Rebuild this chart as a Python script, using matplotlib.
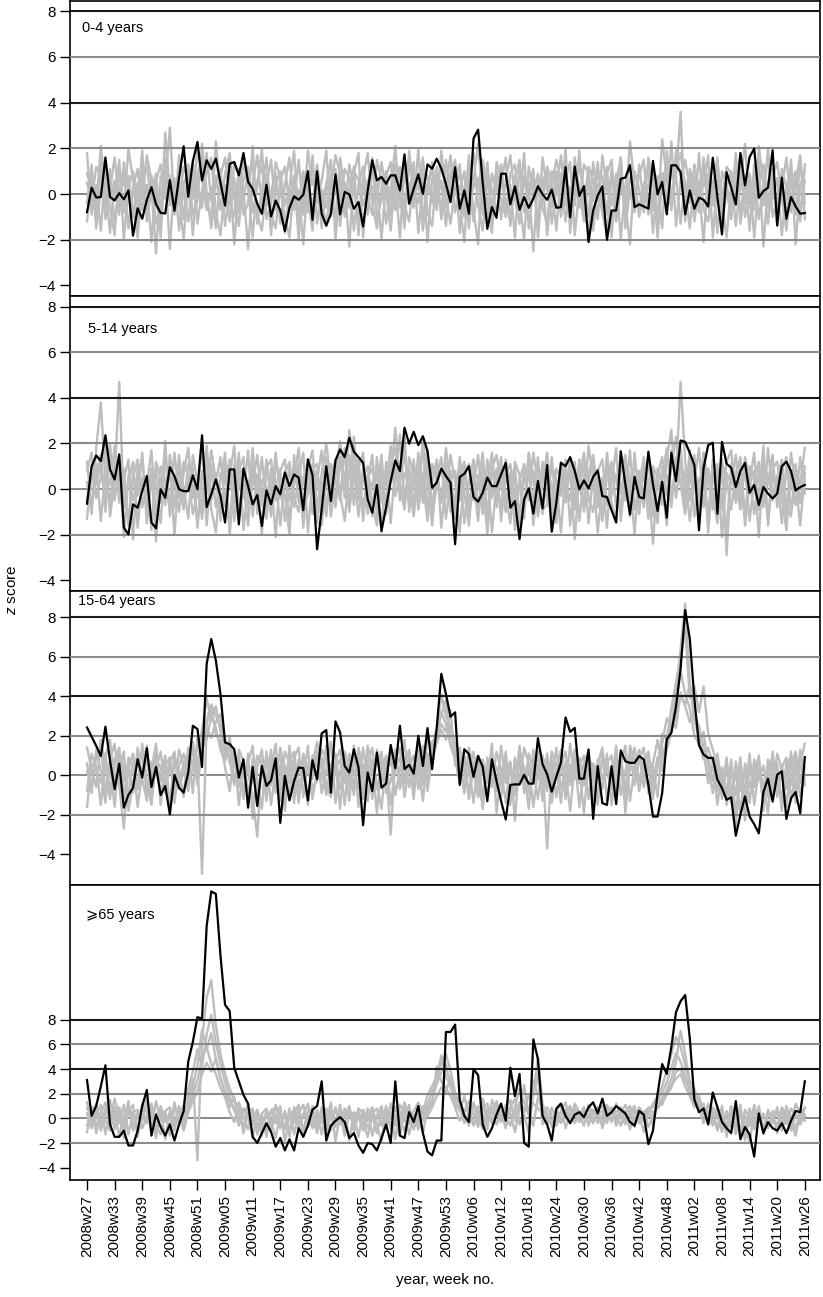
import matplotlib
matplotlib.use('Agg')
import matplotlib.pyplot as plt
import numpy as np

plt.rcParams['font.family'] = ['Liberation Sans', 'DejaVu Sans']
plt.rcParams['mathtext.fontset'] = 'custom'
plt.rcParams['mathtext.it'] = 'Liberation Sans:italic'
plt.rcParams['mathtext.rm'] = 'Liberation Sans'

# semanas 2008w27 .. 2011w26 (2009 tiene 53 semanas)
week_labels = []
for year, first, last in [(2008, 27, 52), (2009, 1, 53), (2010, 1, 52), (2011, 1, 26)]:
    for w in range(first, last + 1):
        week_labels.append('%dw%02d' % (year, w))

# ---- 0-4 years ----
black_04 = [-0.79, 0.28, -0.15, -0.13, 1.6, -0.13, -0.28, 0.04, -0.23, 0.16,
            -1.82, -0.62, -1.08, -0.26, 0.3, -0.45, -0.82, -0.85, 0.61, -0.73,
            0.72, 2.09, -0.11, 1.44, 2.28, 0.6, 1.48, 1.1, 1.55, 0.5,
            -0.5, 1.33, 1.4, 0.82, 1.8, 0.53, 0.23, -0.42, -0.86, 0.41,
            -0.98, -0.28, -0.72, -1.62, -0.6, -0.1, -0.25, -0.03, 1.0, -1.13,
            1.0, -0.86, -1.38, -0.86, 0.86, -0.89, 0.09, -0.01, -0.64, -0.35,
            -1.42, 0.15, 1.48, 0.6, 0.75, 0.45, 0.82, 0.82, 0.16, 1.74,
            -0.42, 0.23, 0.86, 0.01, 1.3, 1.11, 1.55, 1.11, 0.45, -0.35,
            1.18, -0.64, 0.16, -0.86, 2.43, 2.82, 0.5, -1.52, -0.57, -1.04,
            0.89, 0.89, -0.45, 0.34, -0.69, -0.13, -0.6, -0.2, 0.34, -0.01,
            -0.25, 0.19, -0.6, -0.57, 1.18, -1.02, 1.2, -0.08, 0.34, -2.1,
            -0.72, -0.06, 0.34, -2.0, -0.72, -0.72, 0.67, 0.72, 1.26, -0.57,
            -0.45, -0.54, -0.64, 1.45, -0.01, 0.53, -0.89, 1.26, 1.26, 0.96,
            -0.89, 0.16, -0.64, -0.16, -0.25, -0.54, 1.59, -0.13, -1.77, 0.96,
            0.28, -0.45, 1.8, 0.38, 1.62, 1.99, -0.16, 0.13, 0.28, 1.92,
            -1.37, 0.72, -1.08, -0.13, -0.54, -0.86, -0.83]
gray_04 = [
    [0.5, -0.3, 1.2, 0.8, -1.1, 0.2, 1.6, -0.4, 0.9, -1.5, 0.3, 1.1, -0.7, 0.4, -2.1, 0.6, 1.3, -0.2, 0.8, -0.9,
     1.7, 0.1, -1.2, 0.9, 0.4, -0.6, 1.8, -0.3, 0.5, 1.1, -1.4, 0.2, 0.7, -0.8, 1.5, 0.3, -1.9, 0.6, 1.2, -0.5,
     0.1, 0.9, -1.3, 0.4, 1.6, -0.7, 0.2, -2.2, 0.8, 1.3, -0.4, 0.6, 1.9, -1.0, 0.3, -0.5, 1.1, 0.7, -1.6, 0.4,
     1.2, -0.2, -0.9, 1.5, 0.6, -1.3, 0.2, 2.1, -0.6, 0.9, -0.1, 1.4, -1.7, 0.5, 0.8, -0.4, 1.2, -1.1, 0.3, 1.7,
     -0.8, 0.2, 1.0, -1.5, 0.6, 2.2, -0.3, -1.2, 0.9, 0.1, 1.3, -0.7, 0.4, -1.9, 1.1, 0.5, -0.2, 0.8, -1.4, 1.6,
     0.2, -0.6, 1.0, -1.0, 0.7, 1.4, -1.8, 0.3, -0.4, 1.2, 0.6, -1.1, 1.7, 0.2, -0.5, 0.9, -2.0, 0.4, 1.3, -0.3,
     0.8, 1.5, -0.9, 0.1, -1.4, 0.9, -0.6, 1.2, 0.7, 3.6, -1.2, 1.1, 0.3, -0.8, 1.6, -0.1, 0.6, -1.7, 1.0, 0.4,
     -0.6, 1.8, -1.3, 0.2, 0.9, -0.4, 1.4, -2.3, 0.5, 1.1, -0.9, 0.3, 1.6, -0.5, 0.8, -1.2, 1.3],
    [-1.2, 0.8, -0.5, 2.1, 0.3, -1.7, 0.6, -0.9, 1.4, 0.2, -0.6, -1.9, 0.7, 1.2, -0.3, 0.9, -1.4, 2.7, 0.1, -0.8,
     0.5, -1.1, 1.3, -0.2, 2.0, 0.6, -0.7, 0.3, -1.5, 0.8, 1.6, -0.4, -1.0, 1.1, 0.2, -2.4, 0.5, 1.7, -0.6, 0.9,
     -1.8, 0.4, 1.0, -0.5, 0.3, 1.9, -1.2, 0.7, -0.1, -1.6, 0.9, -0.3, 0.4, 1.5, -2.0, 0.6, -0.8, 1.3, 0.2, -1.1,
     0.7, 1.8, -0.4, -1.5, 0.3, 1.0, -0.9, 0.5, -1.9, 1.2, 0.4, -0.6, 2.0, -1.0, 0.1, 1.4, -0.3, 0.6, -1.4, 0.8,
     1.1, -1.7, 0.3, 0.9, -0.7, -2.2, 1.5, 0.4, -0.5, 1.0, -1.1, 0.6, 1.7, -0.2, -1.3, 0.8, 0.3, -2.5, 0.7, -0.4,
     1.2, 0.5, -1.6, 0.9, -0.1, -0.8, 1.6, 0.2, -1.2, 0.6, -0.3, 1.4, -0.9, -1.8, 0.7, 0.1, 1.1, -0.6, 2.3, 0.4,
     -1.0, 0.3, 1.2, -0.7, 0.5, -1.5, 1.9, -0.2, 0.8, -1.3, 0.6, -0.4, 1.3, 0.2, -2.1, 0.9, -0.5, 1.5, -0.8, 0.3,
     1.0, -1.4, 0.5, 2.2, -0.6, 0.8, -1.1, 0.4, 1.6, -0.2, 0.7, -1.8, 0.2, 1.2, -0.9, 1.5, -0.4],
    [1.8, -0.9, 0.4, -1.6, 1.1, 0.7, -0.2, 1.5, -2.0, 0.3, 1.0, -0.5, 1.9, -1.2, 0.2, -2.6, 0.8, 0.5, 2.9, -0.7,
     -0.3, 1.2, 0.6, -1.8, 0.9, 1.6, -0.4, -1.1, 2.3, 0.1, -0.6, 1.0, -2.2, 0.5, -0.1, 0.8, 1.3, -0.9, -1.6, 0.4,
     1.5, -0.7, 0.2, -1.0, -1.9, 0.6, 1.2, 0.3, -0.8, 1.7, -1.3, 0.2, -0.6, 0.9, 1.1, -1.4, 0.5, -2.3, 1.0, 0.6,
     -0.5, 0.3, 1.6, -1.1, -0.2, 0.8, 1.4, -0.7, 0.4, -1.5, 1.9, 0.2, -0.4, 1.1, -2.1, 0.7, 0.3, -0.8, 1.5, -0.2,
     0.6, 1.3, -1.0, 0.4, 1.8, -0.5, -1.6, 0.9, 0.2, -0.9, 0.5, 1.6, -1.4, 0.8, -0.3, -2.0, 1.2, 0.1, 0.9, -0.6,
     -1.3, 1.0, 0.4, -0.5, 2.0, -1.7, 0.6, 1.1, 0.3, -1.0, 1.4, -0.2, -0.7, 0.9, 1.5, -1.2, 0.3, -0.4, -2.2, 1.0,
     0.2, -0.8, 1.6, 0.5, -1.1, 2.4, 0.7, -0.6, 1.1, 1.8, 0.3, -1.5, 0.8, -0.3, 0.4, 1.7, -1.9, 0.6, -0.2, 1.2,
     0.9, -0.5, 1.3, -1.0, 0.2, -0.7, 2.1, 0.4, -1.3, 0.7, 1.4, -0.2, -1.6, 0.5, 1.0, -0.8, 0.6],
    [-0.4, 1.3, -1.5, 0.2, 0.9, -0.6, -1.8, 1.1, 0.4, 0.8, -1.0, 0.5, -0.2, 1.7, 0.6, -1.3, -0.5, 1.0, -2.4, 0.7,
     -1.6, 0.4, 1.1, -0.9, -0.3, 2.2, 0.1, -1.5, 0.8, -0.7, 0.9, 1.8, -0.2, -1.4, 0.6, 1.2, -0.8, 0.3, 2.0, -1.1,
     -0.4, 1.4, 0.7, -1.7, 0.2, -0.3, 1.5, -0.9, 1.9, 0.4, 0.8, -1.5, 0.5, -0.4, -1.1, 1.6, 0.2, -0.6, 0.9, 1.8,
     -1.9, 0.6, 0.3, -0.2, 1.4, 0.1, -1.6, 0.8, 1.2, -0.5, -1.2, 0.7, 0.2, 1.6, -0.8, -1.4, 1.0, 0.3, -0.6, 0.9,
     1.5, -0.4, -2.1, 1.2, 0.3, 0.7, -0.9, 1.4, -1.3, 0.6, -0.2, -1.0, 0.9, 1.3, -0.6, 1.8, -1.5, 0.2, -0.1, 0.7,
     -1.8, 0.4, 1.5, 0.6, -1.2, 0.3, -0.5, 1.9, -0.8, -1.6, 0.2, 0.9, -0.4, 1.2, -1.9, 0.5, 1.6, -1.1, 0.7, 0.2,
     -0.6, 0.4, 1.1, -1.7, 0.8, 0.3, -0.2, 2.3, -1.4, 0.6, 1.5, 0.2, -1.0, 1.8, -0.7, -1.2, 0.5, 1.1, -0.3, -1.9,
     0.4, 1.2, -0.8, 0.6, -1.6, 1.3, 0.1, -0.5, 2.0, -1.0, -0.3, 0.8, -1.2, 1.5, -2.2, 0.4, 1.0],
    [0.9, 0.2, -1.0, 1.5, -0.6, 1.1, -1.3, 0.3, -0.8, 2.0, 0.6, -1.4, 1.2, -0.7, 0.8, 0.1, -1.9, 1.6, -0.5, 0.4,
     -0.2, -2.0, 0.5, 1.4, -1.3, 0.2, 0.9, 1.6, -0.8, -1.8, 0.4, -1.2, 1.4, 0.8, -0.9, -0.4, 2.1, -1.3, 0.2, 1.6,
     -0.9, -1.5, 0.6, 1.2, -0.5, 0.8, -2.0, 1.0, 0.4, -0.7, 1.3, -0.2, -1.4, 0.3, 1.7, 0.9, -1.0, 0.2, 1.2, -1.8,
     0.5, -0.9, 1.1, 0.4, -2.0, 0.7, -0.3, 1.3, 0.8, -1.1, 1.6, -0.5, 0.9, -1.6, 0.4, 1.1, -0.7, 1.9, -0.2, -1.3,
     0.3, 0.9, -0.6, 1.7, -1.2, 0.5, 1.2, -0.4, -1.7, 1.4, 0.7, -0.3, -1.2, 0.6, 1.5, -0.8, 0.2, 1.1, -1.9, 0.5,
     1.1, -1.3, 0.2, 1.7, -0.4, -1.1, 0.8, -0.6, 1.3, 0.9, -1.6, 0.4, 0.8, -0.9, 1.1, -0.3, 1.6, -1.5, 0.2, -0.8,
     1.3, -0.5, 0.4, 1.0, -1.9, 0.6, 1.3, -0.7, 1.9, 0.8, -0.5, 0.9, -1.2, 0.4, 1.1, -0.6, 0.3, 1.6, -1.4, 0.2,
     -1.1, 0.6, 1.7, -0.4, 0.8, -1.9, 0.5, 1.3, -0.6, 0.9, -1.4, 1.1, 0.3, -0.8, 0.5, 1.7, -1.1],
]

# ---- 5-14 years ----
black_514 = [-0.64, 1.0, 1.47, 1.23, 2.36, 0.86, 0.42, 1.52, -1.69, -1.99,
             -0.67, -0.82, -0.09, 0.57, -1.47, -1.72, -0.01, -0.38, 0.96, 0.57,
             -0.01, -0.09, -0.09, 0.6, -0.01, 2.36, -0.79, -0.23, 0.42, -0.3,
             -1.47, 0.86, 0.86, -1.55, 0.9, 0.13, -0.67, -0.26, -1.62, -0.06,
             -0.67, 0.13, -0.23, 0.72, 0.13, 0.64, 0.5, -0.93, 1.3, 0.61,
             -2.64, -0.89, 1.0, -0.53, 1.26, 1.74, 1.4, 2.25, 1.64, 1.4,
             1.15, -0.45, -1.04, 0.18, -1.84, -0.8, 0.35, 1.26, 0.79, 2.69,
             1.99, 2.51, 1.93, 2.32, 1.66, 0.06, 0.28, 0.9, 0.57, 0.28,
             -2.42, 0.53, 0.67, 1.0, -0.35, -0.55, -0.16, 0.5, 0.13, 0.13,
             0.64, 1.15, -0.82, -0.53, -2.2, -0.45, 0.03, -1.08, 0.35, -0.85,
             1.05, -1.87, -0.6, 1.15, 1.0, 1.4, 0.79, -0.01, 0.38, 0.03,
             0.53, 0.82, -0.31, -0.35, -0.93, -1.47, 1.66, 0.2, -1.11, 0.53,
             -0.35, -0.41, 1.64, 0.2, -0.96, 0.32, -1.26, 1.59, 0.35, 2.13,
             2.07, 1.59, 1.05, -1.81, 0.93, 1.93, 2.03, -1.08, 2.07, 1.11,
             0.93, 0.09, 0.79, 1.15, -0.16, 0.18, -0.7, 0.09, -0.2, -0.41,
             -0.2, 1.0, 1.2, 0.79, -0.06, 0.09, 0.18]
gray_514 = [
    [0.3, -1.1, 1.8, 3.8, 0.4, -0.7, 1.2, -0.2, 0.9, -1.6, 0.5, 1.3, -0.8, 0.2, 1.7, -1.2, 0.6, -0.4, 1.1, -2.0,
     0.8, 0.1, -1.3, 1.5, 0.3, -0.9, 1.9, -0.5, 0.7, -1.4, 1.2, 0.4, -0.6, 1.6, -1.8, 0.2, 0.9, -0.3, 1.4, -1.0,
     0.6, -2.1, 0.8, 1.3, -0.5, 0.4, 1.8, -0.9, -0.2, 1.1, -1.5, 0.7, 2.0, 0.3, -0.8, 1.4, -0.4, 2.6, 0.9, -1.2,
     0.5, 1.0, -0.7, -1.6, 0.8, 0.2, 1.9, -0.3, 0.6, 2.3, -1.0, 0.4, 1.2, -0.6, 1.7, -1.3, 0.2, 0.9, -0.4, 1.5,
     0.3, -1.9, 0.7, 1.1, -0.5, 0.2, 1.6, -1.2, 0.8, 0.4, -0.9, 1.3, -0.2, 0.6, -1.7, 1.0, 0.5, -0.6, 1.4, -1.1,
     0.7, 0.2, -1.5, 1.2, -0.3, 0.9, -2.2, 0.5, 1.6, -0.4, -1.0, 0.8, 1.3, -0.7, 0.3, 1.8, -1.4, 0.6, -0.2, 1.1,
     0.4, -0.8, 1.5, -1.2, 0.9, 0.2, -1.6, 1.7, 0.5, 4.7, 1.2, -0.5, 0.8, -1.3, 1.6, 0.3, -0.9, 1.1, -2.1, 0.7,
     0.2, 1.5, -0.6, 0.9, -1.4, 0.4, 1.2, -0.8, 1.8, -0.3, 0.6, -1.5, 1.0, 0.3, -0.7, 1.4, -0.2],
    [-1.3, 0.7, 0.2, 1.1, -0.6, 1.5, 0.4, 4.7, -0.8, 0.3, 1.2, -1.7, 0.5, -0.3, 0.9, -2.3, 1.0, 0.4, -0.9, 1.6,
     -0.4, 1.2, 0.6, -1.1, -0.2, 2.0, -1.6, 0.8, 0.3, 1.4, -0.7, -1.5, 1.1, 0.2, -0.4, 1.7, -1.2, 0.6, -2.0, 0.9,
     1.3, -0.5, 0.2, -1.4, 1.0, -0.8, 0.5, 1.6, -1.9, 0.4, 0.8, -0.6, 1.4, -1.2, 0.6, 2.1, 0.2, 1.5, -0.7, 0.9,
     1.6, -1.1, 0.3, 0.7, -1.9, 1.2, 0.5, 2.7, 0.1, -0.9, 1.4, 0.6, -0.3, 2.2, 0.4, -1.6, 0.8, -0.5, 1.1, -1.0,
     -0.4, 0.9, -1.5, 0.3, 1.3, -0.8, 0.5, -2.0, 0.9, 1.5, 0.2, -1.0, 0.7, -1.8, 0.4, 1.1, -0.5, 0.8, -1.2, 0.3,
     1.6, -0.9, 0.4, -0.3, 1.3, -1.6, 0.7, 0.2, -0.8, 1.9, 0.5, -1.9, 0.2, 1.0, -0.6, -1.3, 0.8, 1.5, -0.4, 0.6,
     -1.1, 1.2, 0.3, -2.4, 0.6, 1.4, -0.3, 0.9, 2.3, 1.0, -0.6, 1.7, -1.2, 0.4, 0.9, -1.7, 0.5, -0.2, 1.3, -2.9,
     0.8, -0.5, 1.1, -1.1, 0.3, 1.6, -0.9, 0.5, -1.3, 0.9, 1.2, -0.4, -1.8, 0.7, 1.1, -0.6, 0.4],
    [0.8, 1.6, -0.4, 0.5, 2.2, -1.2, 0.3, 1.1, -2.1, 0.6, -0.5, 0.4, 1.4, -1.0, 0.7, 0.2, -1.5, 1.3, 0.6, -0.8,
     1.5, -0.6, 0.3, 0.9, -1.7, 0.5, 1.2, -0.9, -1.9, 0.7, 0.2, 1.3, -1.4, 0.6, 0.9, -0.7, 1.8, -1.1, 0.4, 0.1,
     -1.2, 1.1, 0.7, -0.3, -2.0, 1.5, -0.6, 0.3, 1.2, -1.1, 0.4, 1.7, -0.9, 0.5, 1.3, -0.2, -1.4, 0.8, 1.9, 0.2,
     -0.7, 0.4, 1.5, -1.2, 0.3, -0.6, 1.1, 1.8, -0.5, 0.7, 0.2, -1.2, 0.8, 1.6, -0.9, 0.3, 1.3, -1.7, 0.5, 0.8,
     -1.3, 0.6, 1.2, -0.6, 0.4, -1.4, 1.0, 0.2, 1.6, -0.8, 0.9, -0.3, -1.5, 1.2, 0.6, -0.9, 1.5, -1.6, 0.3, 0.8,
     -0.4, 1.4, -1.1, 0.7, 0.2, -0.5, 1.2, -1.4, 0.6, 0.3, 1.3, -0.8, 0.5, -1.7, 1.1, 0.4, -0.2, 0.9, -1.2, 1.6,
     -0.5, 0.8, -1.3, 1.0, 0.5, -0.7, 1.3, 2.6, -0.4, 1.1, 0.6, -1.4, 0.3, 1.8, -0.8, 0.9, -0.3, -1.5, 1.2, 0.4,
     -0.9, 0.7, 1.4, -1.6, 0.2, 0.8, -2.1, 1.1, 0.6, -0.5, 0.4, 1.3, -0.7, -1.2, 0.9, 0.2, 1.8],
    [-0.5, 0.3, 1.1, -1.4, 0.8, 0.2, 1.9, -0.6, 0.4, 1.3, -2.2, 0.9, -0.1, 0.6, -1.8, 1.2, 0.5, -0.7, 1.5, 0.3,
     -1.0, 0.7, 1.8, -0.4, 0.2, -1.3, 0.6, 1.1, -0.8, 0.4, 1.6, -2.0, 0.3, 0.8, 1.4, -0.9, 0.2, 1.5, -0.6, -1.3,
     0.9, 0.4, -1.6, 0.7, 1.2, -0.4, -1.0, 0.5, 0.9, 1.7, -0.8, 0.3, -1.2, 1.1, 0.4, -0.5, 1.8, -0.9, 0.6, 1.3,
     -1.4, 0.5, 0.9, -0.3, 1.5, -1.1, 0.6, 0.2, 2.4, -0.6, 0.9, -0.8, 1.6, 0.3, -1.4, 1.1, 0.4, -0.6, 1.8, 0.2,
     -0.7, 1.4, -0.2, -1.6, 0.8, 0.5, -1.1, 1.3, -0.4, 0.9, -1.4, 0.6, 1.1, -0.5, 0.3, -1.3, 1.6, 0.4, -0.8, 1.2,
     0.3, -1.7, 0.9, 0.5, -0.6, 1.4, -0.9, 0.2, 1.1, -1.5, 0.7, 0.4, -1.2, 1.6, -0.3, 0.6, -1.0, 1.3, 0.5, -2.0,
     0.8, -0.4, 1.2, 0.3, -1.5, 1.0, 0.6, -0.8, 1.4, 0.2, -1.1, 0.9, 0.4, -0.6, 1.6, -1.9, 0.7, 0.3, -0.9, 1.2,
     1.7, -0.6, 0.4, -1.3, 1.0, 0.5, -0.4, 1.9, -1.6, 0.6, -0.2, 0.8, 1.4, -0.9, 0.3, -1.6, 0.7],
    [1.2, -0.8, 0.6, 1.5, -1.0, 2.0, -0.5, 0.9, 0.3, -1.4, 0.7, -0.3, 1.6, -1.5, 0.4, 0.9, -0.6, 2.1, -1.2, 0.5,
     0.3, -0.9, 1.1, 0.6, -1.5, 0.8, -0.2, 1.7, 0.4, -1.1, -0.3, 0.6, 1.9, -0.8, 0.2, -1.6, 1.0, 0.5, -0.7, 1.3,
     -0.6, 1.6, -0.4, 0.8, -1.3, 0.2, 1.1, -1.7, 0.6, 0.9, 1.1, -1.6, 0.4, 0.7, -0.4, 1.2, 0.6, -1.0, 2.3, -0.5,
     0.9, 0.3, -1.2, 1.4, -0.6, 0.8, -1.5, 1.0, 0.3, 1.6, -0.4, 1.3, -0.9, 0.5, 1.1, -0.7, 0.6, 1.4, -1.3, 0.4,
     0.8, -0.5, 1.1, -1.1, 0.2, 1.5, -0.8, 0.6, -1.9, 0.3, 1.4, -0.9, 0.5, 0.9, -1.2, 0.6, -0.4, 1.6, 0.2, -0.9,
     -0.7, 1.1, 0.3, -1.9, 0.8, 0.4, -0.5, 1.3, -1.0, 0.7, 1.5, -0.2, -1.4, 0.6, 1.2, -0.8, 0.3, -0.5, 1.7, -0.9,
     0.2, 1.4, -0.6, 0.9, -1.0, 0.5, 1.8, -0.3, 1.0, 1.8, -0.5, 0.3, 1.5, -0.8, 0.4, -1.2, 1.3, 0.6, -0.4, -1.8,
     1.1, 0.3, -0.9, 1.4, 0.5, -1.1, 0.8, -0.6, 0.3, 1.5, -0.8, 0.5, -1.3, 1.6, 0.2, -0.6, 1.0],
]

# ---- 15-64 years ----
black_1564 = [2.42, 1.95, 1.49, 0.98, 2.46, 0.73, -0.71, 0.59, -1.64, -1.0,
              -0.63, 0.81, -0.12, 1.37, -0.59, 0.42, -1.0, -0.54, -1.98, 0.02,
              -0.63, -0.88, 0.14, 2.51, 2.34, 0.42, 5.64, 6.9, 5.81, 4.12,
              1.66, 1.58, 1.32, -0.12, 0.81, -1.64, 0.42, -1.56, 0.47, -0.54,
              -0.25, 0.86, -2.41, -0.03, -1.27, -0.29, 0.39, 0.36, -1.27, 0.76,
              -0.2, 2.12, 2.29, -0.88, 2.73, 2.17, 0.47, 0.14, 1.32, 0.39,
              -2.53, 0.14, -0.8, 1.15, -0.63, -0.42, 1.54, 0.36, 2.51, 0.31,
              0.53, 0.08, 2.0, 0.47, 2.39, 0.31, 2.4, 5.14, 4.12, 2.97,
              3.19, -0.49, 1.32, 1.07, -0.08, 0.98, 0.42, -1.31, 0.81, -0.29,
              -1.31, -2.24, -0.49, -0.46, -0.46, 0.02, -0.42, -0.42, 1.88, 0.56,
              0.05, -0.83, -0.08, 0.64, 2.93, 2.2, 2.4, -0.17, -0.17, 1.31,
              -2.21, 0.46, -1.41, -1.5, 0.46, -1.46, 1.26, 0.71, 0.63, 0.63,
              0.97, 0.8, -0.48, -2.09, -2.09, -0.9, 1.82, 2.16, 3.47, 5.4,
              8.37, 6.92, 3.86, 1.53, 1.05, 0.88, 0.88, -0.22, -0.65, -1.24,
              -1.12, -3.06, -2.0, -1.07, -2.09, -2.48, -2.94, -0.85, -0.17, -1.33,
              0.03, 0.2, -2.21, -1.16, -0.85, -1.92, 0.92]
gray_1564 = [
    [0.6, -0.9, 1.3, 0.2, -1.4, 0.8, 1.6, -0.5, -2.7, 0.4, 1.1, -0.7, 0.3, 1.5, -1.2, 0.6, -0.3, 1.0, -1.6, 0.9,
     0.2, -1.1, 1.4, 0.5, 0.9, -5.0, 2.6, 3.4, 2.1, 1.7, 0.4, -0.8, 1.2, -1.5, 0.6, 0.2, -1.1, -3.1, 0.8, -0.4,
     1.3, -0.9, 0.5, -1.8, 0.7, 1.2, -0.6, 0.3, -1.4, 1.0, 0.5, -0.2, 1.5, -1.0, 0.4, 0.8, -1.5, 1.1, 0.2, -0.7,
     1.4, -0.3, 0.6, -1.9, 0.9, 0.3, -3.0, 1.0, -0.5, 0.7, 1.3, -0.8, 0.4, -1.3, 1.1, 0.6, 1.9, 3.2, 2.6, 1.5,
     0.8, -0.4, 1.0, -1.2, 0.5, 0.2, -1.7, 0.9, -0.6, 1.2, 0.3, -1.4, 0.7, -2.3, 1.0, 0.4, -0.9, 1.3, -0.2, 0.6,
     -3.7, 0.8, -1.1, 0.5, 1.2, -0.5, 0.9, -1.6, 0.3, 1.1, -0.8, 0.6, 1.4, -1.3, 0.4, -0.4, 1.0, -1.9, 0.7, 0.2,
     1.1, -0.6, 0.5, -1.2, 0.9, 1.1, 1.6, 2.4, 4.3, 6.4, 8.7, 4.6, 2.8, 1.9, 1.2, -0.4, 0.6, -1.5, 0.3, -0.9,
     0.8, -2.1, 0.4, -1.3, 0.7, -0.5, 1.0, -1.8, 0.3, 0.9, -1.1, 0.5, -0.7, 1.2, -1.4, 0.6, 1.6],
    [1.4, 0.3, -0.6, 1.8, 0.5, -1.2, 0.9, 0.2, 1.2, -1.8, -0.4, 0.8, 1.1, -0.9, 0.3, 1.6, -1.5, 0.5, 0.9, -0.7,
     1.3, 0.4, -0.8, 1.7, 0.2, 2.3, 3.9, 2.8, 3.5, 2.2, 1.0, 1.5, -0.3, 0.7, -1.2, 1.1, -2.2, 0.4, 1.3, -0.8,
     0.2, 1.6, -1.3, 0.5, -0.4, 0.9, 1.4, -1.1, 0.6, -0.2, 1.2, -0.9, 0.3, 1.7, -1.4, 0.2, 0.8, -0.6, 1.5, -1.6,
     0.4, 0.9, -1.2, 1.3, -0.3, 0.6, 1.1, -1.0, 0.3, 1.8, -0.6, 0.5, 1.2, -0.5, 2.0, 1.3, 2.2, 4.1, 3.0, 2.4,
     1.6, 0.9, -0.7, 1.4, 0.3, -1.1, 0.8, -0.4, 1.6, -1.9, 0.2, 0.7, -1.3, 0.9, -0.5, 1.4, 0.6, -1.6, 0.3, 1.0,
     -0.8, 1.2, 0.5, -1.4, 0.7, -0.2, 1.3, 0.4, -1.9, 0.8, 0.5, -1.2, 0.9, 0.3, -0.6, 1.5, -1.0, 0.2, 1.2, -0.5,
     0.8, 1.4, -0.9, 0.6, 1.8, 0.2, 1.3, 2.2, 3.1, 4.0, 3.6, 4.6, 3.1, 2.5, 1.4, 0.9, -0.3, 0.6, -1.2, 0.4,
     -0.6, -2.6, 0.5, -0.9, 1.1, -1.5, 0.3, -0.4, -1.9, 0.7, 0.2, -1.3, 0.6, 0.9, -0.8, 1.3, -0.3],
    [-0.8, 1.1, 0.4, -1.5, 0.9, 1.8, -0.6, 1.2, 0.3, -1.0, 0.7, -1.6, 0.2, 0.8, -0.5, 1.3, -1.1, 0.4, -1.8, 1.0,
     -0.3, 0.6, 1.2, -0.9, 1.9, 1.5, 2.8, 3.6, 3.0, 2.5, 1.9, 0.6, 1.1, -0.6, 0.3, -1.4, 0.8, -0.2, -1.7, 1.2,
     -0.5, 0.4, 1.0, -1.1, 1.5, -0.8, 0.2, 0.9, -1.5, 0.6, 1.7, 0.3, -1.0, 0.5, 1.1, -0.7, 0.4, -1.3, 1.0, 0.2,
     -0.9, 1.5, 0.3, -0.4, -1.7, 0.8, 0.5, 1.3, -0.7, 0.4, 0.9, -1.2, 1.6, 0.2, -0.3, 1.4, 2.4, 3.1, 3.8, 1.7,
     1.1, 0.5, -0.9, 0.3, 1.2, -0.6, -1.4, 0.7, 0.2, -0.8, 1.5, -0.4, 0.6, -1.0, 1.3, 0.2, -1.7, 0.9, 0.4, -0.5,
     1.1, -1.4, 0.3, 0.8, -0.9, 1.6, -0.2, 0.5, 1.0, -1.2, 0.6, 0.2, -0.7, 1.1, -1.5, 0.4, 0.9, -0.6, 0.3, 1.4,
     -0.3, 0.7, 1.2, -0.8, 0.4, 2.1, 1.8, 3.4, 4.7, 5.9, 7.4, 3.9, 4.5, 3.2, 4.5, 2.1, 1.3, 0.5, -0.7, 0.9,
     -1.4, 0.3, -2.0, 0.6, -0.6, 0.2, 0.9, -1.5, 0.4, -0.9, 1.1, 0.3, -1.6, 0.5, 1.2, -0.4, 0.8],
    [0.2, -0.5, 0.9, 1.3, -0.8, 0.4, -1.6, 1.1, -0.3, 0.6, -0.9, 1.4, -0.2, -1.3, 0.7, 0.3, 1.2, -0.6, 0.8, -1.4,
     0.5, 1.1, -0.4, 0.3, 1.4, 2.2, 1.8, 3.0, 2.4, 1.3, 0.7, 1.9, 0.4, 1.0, -0.9, 0.6, 1.5, -1.2, 0.3, 0.9,
     -1.5, 0.3, -0.7, 1.2, 0.6, -1.4, 0.8, -0.3, 1.5, -1.2, 0.2, 0.9, -0.5, -1.1, 0.7, 1.3, -0.4, 0.6, -1.0, 1.4,
     0.3, -1.3, 0.8, 0.5, 1.2, -0.9, -0.3, 0.7, 1.4, -1.1, 0.4, 1.0, -0.7, 0.9, 0.2, 1.7, 2.0, 2.6, 2.2, 3.3,
     0.5, 1.4, 0.2, -0.8, 0.6, 1.0, -1.2, 0.5, 1.1, -0.6, -1.1, 0.8, 0.3, -0.7, 1.5, -0.9, 0.4, -0.3, 1.2, -1.3,
     0.6, -0.4, 1.4, -0.7, 0.2, -1.8, 0.6, 0.9, -0.5, 0.3, -1.4, 0.8, -0.2, 0.6, 1.0, -0.8, 0.5, 1.5, -1.3, 0.4,
     1.3, -0.2, 0.8, 0.4, -1.1, 1.6, 2.9, 2.3, 3.5, 5.3, 4.1, 3.4, 2.0, 1.6, 0.8, 1.4, 0.6, -0.8, 0.4, -1.5,
     0.3, -1.0, 0.9, -2.3, 0.5, -0.6, 0.2, -1.2, 0.8, -0.4, 0.6, -1.8, 0.3, -0.5, 0.9, -1.1, 0.4],
    [-1.6, 0.6, 0.2, -0.4, 1.1, -0.9, 0.5, 1.4, -1.2, 0.9, 0.3, -0.6, 1.6, -0.3, -1.5, 0.8, 0.4, -0.9, 0.6, 1.2,
     -0.7, 0.2, 0.8, 1.3, -0.5, 1.2, 2.4, 1.9, 2.7, 3.1, 1.4, 0.8, -0.5, 1.3, 0.7, -0.8, -0.3, 1.0, 0.5, -1.3,
     0.9, -0.4, 1.4, 0.2, -1.0, 0.7, -1.4, 1.1, 0.3, -0.6, -0.3, 1.3, 0.8, -0.9, 0.5, -1.7, 1.2, 0.4, -0.4, 0.9,
     -1.2, 0.6, 1.4, -0.7, 0.3, 1.0, -1.5, 0.4, 0.9, -0.4, 1.2, -0.3, 0.5, 1.5, -0.8, 0.9, 1.6, 2.3, 1.8, 2.6,
     1.2, -0.2, 0.9, 0.5, -1.4, 0.7, 0.3, -1.1, 0.6, 0.4, -0.5, 1.2, -1.5, 0.4, 0.8, -0.7, 1.1, 0.3, -1.2, 0.6,
     0.9, -0.6, 0.2, 1.3, -1.2, 0.5, 0.8, -0.4, 0.6, 1.2, -0.3, -1.5, 1.1, 0.2, -0.7, 0.9, 0.3, -1.1, 1.5, 0.7,
     -0.8, 0.5, 1.1, -0.4, 0.9, 0.6, 1.9, 2.8, 2.4, 4.2, 3.5, 2.7, 3.3, 1.8, 2.2, 0.4, -0.9, 1.1, -0.5, 0.6,
     -1.2, 0.7, -0.8, 0.4, -1.4, 0.8, -0.2, 0.5, -1.1, 1.2, -0.7, 0.4, 0.9, -1.3, 0.3, 0.7, -0.5],
]

# ---- >=65 years ----
black_65 = [3.1, 0.2, 1.0, 2.6, 4.3, -0.5, -1.5, -1.5, -1.0, -2.2,
            -2.2, -1.0, 1.0, 2.3, -1.4, 0.3, -0.7, -1.4, -0.5, -1.8,
            -0.5, 0.6, 4.6, 6.2, 8.2, 8.1, 15.6, 18.4, 18.2, 13.2,
            9.2, 8.7, 4.1, 3.0, 1.9, 1.2, -1.5, -2.0, -1.2, -0.4,
            -1.1, -2.3, -1.6, -2.6, -1.7, -2.6, -0.8, -1.5, -0.6, 0.7,
            1.0, 3.0, -1.8, -0.6, -0.2, 0.1, -0.3, -1.6, -1.2, -2.2,
            -2.8, -2.0, -2.1, -2.6, -1.6, -0.5, -2.0, 3.0, -1.4, -1.6,
            0.5, -0.3, 1.0, -1.2, -2.7, -3.0, -1.8, -1.8, 7.0, 7.0,
            7.6, 1.5, 0.2, -0.3, 4.0, 3.5, -0.5, -1.5, -0.8, 0.3,
            1.2, -0.2, 4.1, 1.8, 3.6, -2.0, -2.3, 6.4, 4.8, 0.2,
            -0.5, -1.8, 0.8, 1.2, 0.2, -0.4, 0.3, 0.5, 0.1, 0.9,
            1.3, 0.4, 1.6, 0.2, 0.5, 1.0, 0.7, 0.4, -0.3, -0.6,
            0.6, 0.3, -2.1, -1.0, 2.0, 4.4, 3.6, 5.8, 8.6, 9.5,
            10.0, 6.5, 1.5, 0.5, 0.8, -0.5, 2.1, 0.9, -0.3, -0.8,
            -1.2, 1.4, -1.7, -0.7, -1.3, -3.1, 0.4, -1.2, -0.3, -0.8,
            -1.0, -0.4, -1.2, -0.2, 0.6, 0.5, 3.0]
gray_65 = [
    [-0.6, 0.9, -1.2, 0.4, 1.3, -0.3, 0.7, -1.5, 0.2, 1.1, -0.8, 0.5, -0.2, 1.6, -1.1, 0.3, 0.8, -1.7, 0.6, -0.4,
     1.0, -0.9, 1.8, 3.2, -3.4, 6.4, 9.8, 11.2, 7.5, 5.2, 3.6, 2.4, 1.5, 0.6, -0.8, 1.2, -0.5, 0.3, -1.4, 0.7,
     -0.2, -1.6, 0.5, -0.9, 0.8, -1.3, 0.4, 1.1, -0.7, 0.2, -1.2, 0.6, -0.4, 1.3, -1.9, 0.4, -0.6, 0.9, -1.1, 0.3,
     -0.5, 0.8, -1.4, 0.2, 1.0, -0.8, 0.5, -1.7, 0.6, -0.3, 1.1, -0.9, 0.4, -1.2, 0.8, 1.5, 2.8, 4.6, 5.2, 3.9,
     2.1, 1.2, 0.4, -0.6, 1.3, 0.2, -0.9, 0.7, -0.3, 1.4, 0.5, -0.8, 0.9, 1.6, -0.5, 0.3, -1.2, 2.2, 4.9, 1.1,
     0.4, -0.7, 0.8, -0.2, 0.6, 1.0, -0.4, 0.3, 0.9, -0.6, 0.7, 0.2, -0.5, 1.1, 0.4, -0.3, 0.8, 0.5, -0.9, 0.6,
     0.3, -1.1, 0.5, 1.2, 1.8, 2.6, 3.9, 5.2, 6.6, 5.8, 4.3, 2.7, 1.6, 0.9, -0.4, 1.2, 0.3, -0.8, 1.0, -1.5,
     0.4, -0.6, 1.1, -1.8, 0.2, -0.9, 0.5, -1.3, 0.7, -0.4, 0.9, -1.0, 0.3, -0.5, 1.2, 0.4, -0.2],
    [1.3, -0.4, 0.6, -1.0, 0.2, 1.5, -0.9, 0.4, -1.6, 0.8, 0.3, -1.1, 1.2, 0.5, -0.7, 1.4, -0.2, 0.6, -1.4, 0.9,
     0.2, 1.1, 2.4, 3.8, 5.6, 4.2, 6.8, 8.4, 6.1, 4.4, 2.9, 1.8, 0.6, 1.3, 0.2, -0.9, 0.7, -1.3, 0.4, 0.8,
     -1.0, 0.3, -0.8, 0.6, -1.5, 0.9, -0.4, 0.2, 1.2, -0.6, 0.5, -1.3, 0.8, 0.1, -0.7, 1.1, -1.2, 0.5, 0.3, -1.5,
     0.7, -0.2, 0.6, -1.1, 0.4, -0.6, 1.2, -0.3, -1.4, 0.8, -0.5, 0.6, 1.3, 0.4, 1.9, 2.6, 3.4, 5.1, 3.3, 2.8,
     1.5, 0.6, 1.8, 0.2, -0.5, 1.0, 0.3, -0.9, 1.5, 0.6, -0.3, 1.1, 0.4, -1.1, 0.8, 2.7, 0.2, 3.1, 1.9, 0.6,
     -0.5, 0.9, -0.2, 0.6, 1.3, -0.4, 0.7, 0.2, -0.6, 1.1, 0.3, 0.9, -0.8, 0.5, -0.3, 1.2, 0.2, -0.5, 0.6, 1.0,
     -0.4, 0.5, 0.8, -0.6, 1.4, 2.1, 2.9, 4.1, 5.3, 4.6, 3.4, 2.2, 1.3, 1.8, 0.5, -0.3, 0.9, 0.2, -1.1, 0.6,
     -0.8, 0.3, -1.4, 0.7, 0.1, -0.6, 1.0, -0.9, 0.4, 0.3, -1.2, 0.6, -0.5, 0.8, 0.2, -0.3, 0.9],
    [-1.1, 0.4, 1.2, -0.6, 0.8, -0.3, 1.6, 0.2, -0.9, 0.5, 1.1, -1.5, 0.3, -0.4, 0.9, -1.2, 0.6, 0.3, -0.8, 1.3,
     -0.6, 0.4, 1.2, 2.6, 4.3, 7.2, 5.6, 6.9, 4.8, 3.3, 2.0, 0.9, 1.7, -0.4, 0.8, 0.3, -1.6, 0.6, -0.5, -1.1,
     0.7, -0.4, 1.0, -2.0, 0.3, 0.6, -0.9, 0.4, -0.3, 1.0, -0.8, 0.9, -1.5, 0.4, 0.6, -0.3, 0.8, -1.8, 0.5, 0.2,
     -1.0, 0.3, 0.9, -0.5, -1.9, 0.7, 0.2, -0.6, 1.1, 0.4, -1.3, 0.2, -0.4, 1.0, 0.6, 1.2, 4.2, 3.0, 2.5, 1.8,
     0.9, -0.2, 0.6, 1.4, 0.3, -0.7, 0.8, 1.2, -0.4, 0.5, 1.0, 0.2, -0.6, 0.9, 2.4, 1.3, 0.6, 1.8, 3.6, -0.5,
     0.2, -0.3, 0.6, 1.1, -0.8, 0.4, 0.9, -0.2, 0.5, 0.3, -0.4, 0.6, 1.0, -0.1, 0.7, -0.6, 0.4, 1.1, 0.2, -0.3,
     0.9, 0.4, -0.7, 0.3, 1.0, 1.6, 2.3, 3.2, 4.6, 7.1, 5.2, 3.0, 2.4, 1.1, 0.7, 0.2, -0.6, 0.8, 0.3, -0.9,
     0.5, -1.3, 0.4, -0.3, -2.0, 0.6, 0.1, -0.8, 0.4, -0.2, 0.6, -0.7, 1.0, -0.4, -1.4, 0.5, 0.8],
    [0.4, -0.8, 0.2, 1.1, -1.3, 0.6, -0.2, 0.9, -0.6, 1.4, -1.0, 0.2, 0.8, -0.4, 0.5, -1.6, 1.0, -0.3, 0.4, -1.0,
     0.9, -0.2, 0.7, 1.9, 3.1, 4.9, 5.8, 4.4, 3.6, 2.5, 1.7, 0.5, -0.3, 0.9, -1.2, 0.4, 0.8, -0.7, 0.3, -1.5,
     0.6, 0.9, -0.5, 0.3, -1.0, 0.5, 1.1, -1.4, 0.2, -0.8, 0.7, -0.4, 0.3, -1.0, 0.9, -0.5, 0.2, 1.0, -0.9, 0.5,
     -0.3, -1.5, 0.4, 0.8, -0.6, 1.0, -0.8, 0.3, -0.4, 1.3, 0.2, -0.6, 0.9, -0.2, 1.1, 2.2, 2.8, 3.7, 4.4, 2.6,
     1.0, 0.8, -0.4, 0.5, 1.1, -0.3, 1.6, 0.2, 0.9, -0.5, 0.3, 0.8, 1.5, -0.2, 1.0, 0.5, 1.9, 1.2, 0.8, 0.4,
     0.9, 0.2, -0.6, 0.4, 0.7, -0.3, 1.2, 0.5, -0.1, 0.8, -0.2, 0.4, 0.6, -0.4, 0.9, 0.3, -0.6, 0.5, 1.0, -0.7,
     0.5, -0.2, 0.9, 0.4, 0.8, 1.3, 1.9, 2.5, 3.8, 4.0, 3.1, 2.4, 1.7, 0.6, 1.2, -0.4, 0.5, -1.0, 0.3, -0.6,
     1.0, -0.9, 0.4, -1.4, 0.8, -0.4, 0.3, -1.1, 0.5, 0.1, -0.6, 0.9, 0.2, -1.0, 0.4, -0.5, 0.3],
    [0.8, 0.3, -0.6, 0.5, -0.2, -1.0, 0.9, -0.4, 1.1, -1.3, 0.5, 0.7, -0.8, 0.2, 1.2, -0.5, -1.3, 0.6, 0.9, -0.6,
     0.3, -1.0, 0.5, 1.4, 2.2, 3.6, 4.5, 3.8, 4.9, 3.2, 2.2, 1.4, 0.8, -0.6, 0.5, 1.0, -0.2, 0.7, -0.9, 0.4,
     -0.6, 1.1, 0.2, -0.7, 0.4, -0.4, 0.8, -1.0, 0.6, 0.3, -0.4, 0.5, -0.9, 0.7, -0.2, 0.3, -1.4, 0.6, -0.5, 0.8,
     0.4, -0.8, 0.1, -1.2, 0.7, 0.3, -0.6, 0.9, -0.2, -1.0, 0.6, 0.3, -0.9, 0.5, 0.2, 0.9, 1.8, 2.5, 2.1, 3.4,
     1.9, 1.1, 0.5, 0.9, -0.6, 0.4, 1.2, -0.3, 0.6, 1.0, -0.2, 0.5, 0.9, 0.3, 1.3, 0.8, 0.4, -0.6, 1.7, 0.9,
     -0.2, 0.6, 0.4, -0.4, 0.2, 0.8, 0.5, -0.3, 0.7, 0.1, 0.6, -0.4, 0.3, 0.8, -0.2, 0.5, 0.9, -0.3, 0.4, 0.7,
     -0.2, 0.3, 0.6, 0.9, 1.5, 1.1, 2.2, 2.7, 3.2, 3.6, 2.6, 1.8, 0.9, 1.4, 0.2, 0.6, -0.4, 0.9, -0.7, 0.3,
     -0.5, 0.8, -0.9, 0.2, -0.6, 1.1, -0.3, 0.4, -0.8, 0.6, 0.3, -0.4, 0.7, 0.2, -0.9, 0.6, 0.2],
]

panels = [
    ('0-4 years', black_04, gray_04, (-4.45, 8.45), (0.016, 0.908)),
    ('5-14 years', black_514, gray_514, (-4.45, 8.48), (0.024, 0.887)),
    ('15-64 years', black_1564, gray_1564, (-5.57, 9.36), (0.011, 0.964)),
    ('\u2a7e65 years', black_65, gray_65, (-5.0, 18.9), (0.021, 0.900)),
]

fig = plt.figure(figsize=(8.23, 12.97), dpi=100)
W, H = 823.0, 1297.0
left, right = 70 / W, 820 / W
top_px, bottom_px = 1.0, 1180.0
ph = (bottom_px - top_px) / 4

x_ticks = list(range(0, len(week_labels), 6))

for k, (name, black, grays, ylim, tpos) in enumerate(panels):
    y0 = 1 - (top_px + ph * (k + 1)) / H
    ax = fig.add_axes([left, y0, right - left, ph / H])
    # linea del cero por debajo de las series grises
    ax.axhline(0, color='#808080', lw=1.3, zorder=1)
    for g in grays:
        ax.plot(np.arange(len(g)), g, color='#bdbdbd', lw=1.7, zorder=2)
    for yv, c in [(8, '#1a1a1a'), (6, '#8a8a8a'), (4, '#1a1a1a'), (2, '#8a8a8a'), (-2, '#8a8a8a')]:
        ax.axhline(yv, color=c, lw=1.5, zorder=3)
    ax.plot(np.arange(len(black)), black, color='black', lw=1.6, zorder=4)
    ax.set_xlim(-3.7, 159.3)
    ax.set_ylim(*ylim)
    ax.set_yticks([-4, -2, 0, 2, 4, 6, 8])
    ax.tick_params(axis='y', length=7, width=1, labelsize=11, pad=3)
    for s in ax.spines.values():
        s.set_linewidth(1.2)
    ax.text(tpos[0], tpos[1], name, transform=ax.transAxes, fontsize=10.5,
            ha='left', va='center')
    if k < 3:
        ax.set_xticks([])
    else:
        ax.set_xticks(x_ticks)
        ax.set_xticklabels([week_labels[i] for i in x_ticks], rotation=90, fontsize=11)
        ax.tick_params(axis='x', length=7, width=1, pad=4)

fig.text(445 / W, 1 - 1280 / H, 'year, week no.', ha='center', va='center', fontsize=11)
fig.text(12 / W, 1 - 590 / H, '$z$ score', ha='center', va='center', rotation=90, fontsize=11)

fig.savefig('out.png', dpi=100)
